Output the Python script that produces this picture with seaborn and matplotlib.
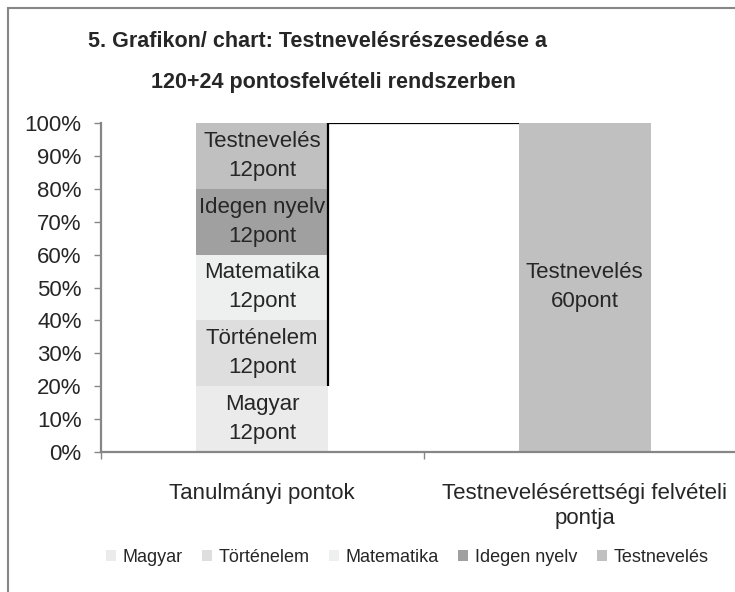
import seaborn as sns
import matplotlib.pyplot as plt
import numpy as np
from matplotlib.patches import Patch, Rectangle

categories = ["Tanulmányi pontok", "Testnevelésérettségi felvételi\npontja"]
subjects = ["Magyar", "Történelem", "Matematika", "Idegen nyelv", "Testnevelés"]
points_tanulmanyi = [12, 12, 12, 12, 12]
points_erettsegi = [0, 0, 0, 0, 60]
colors = ["#ebebeb", "#dedede", "#eef0ef", "#a0a0a0", "#c0c0c0"]
yticks = list(range(0, 101, 10))

TITLE_1 = "5. Grafikon/ chart: Testnevelésrészesedése a"
TITLE_2 = "120+24 pontosfelvételi rendszerben"

sns.set_style("white")
plt.rcParams["font.family"] = ["Liberation Sans", "DejaVu Sans"]
TEXT = "#262626"
GRAY = "#868686"

points = np.array([points_tanulmanyi, points_erettsegi], dtype=float)
pct = points / points.sum(axis=1, keepdims=True) * 100
cum = pct.cumsum(axis=1)
bar_w = 0.41

fig = plt.figure(figsize=(7.35, 5.92), dpi=100)
ax = fig.add_axes([101 / 735, 1 - 452 / 592, 645 / 735, 329 / 592])

# stacked bars: draw cumulative totals from the top series down
for j in range(len(subjects) - 1, -1, -1):
    sns.barplot(x=[0, 1], y=cum[:, j], color=colors[j], width=bar_w,
                saturation=1, ax=ax, native_scale=True, linewidth=0)

for i in range(2):
    for j, s in enumerate(subjects):
        if points[i, j] > 0:
            ax.text(i, cum[i, j] - pct[i, j] / 2, f"{s}\n{int(points[i, j])}pont",
                    ha="center", va="center", fontsize=16, color=TEXT,
                    linespacing=1.5)

# black connector line
ax.plot([bar_w / 2, bar_w / 2, 1 - bar_w / 2], [cum[0, 0], 100, 100],
        color="black", lw=1.6, solid_capstyle="butt")

ax.set_xlim(-0.5, 1.5)
ax.set_ylim(0, 100)
ax.set_yticks(yticks)
ax.set_yticklabels([f"{v}%" for v in yticks])
ax.set_xticks([0, 1])
ax.set_xticklabels(categories, linespacing=1.25)
ax.set_xticks([-0.5, 0.5, 1.5], minor=True)
ax.tick_params(axis="y", length=5, width=1, color=GRAY, labelsize=16,
               labelcolor=TEXT, pad=9, left=True)
ax.tick_params(axis="x", which="major", length=0, labelsize=16,
               labelcolor=TEXT, pad=22)
ax.tick_params(axis="x", which="minor", length=5, width=1, color=GRAY,
               bottom=True)
ax.set_xlabel("")
ax.set_ylabel("")
sns.despine(ax=ax)
for sp in ["left", "bottom"]:
    ax.spines[sp].set_color(GRAY)
    ax.spines[sp].set_linewidth(1.6)

fig.text(318 / 735, 1 - 47 / 592, TITLE_1, ha="center", va="baseline",
         fontsize=15.5, fontweight="bold", color=TEXT)
fig.text(333 / 735, 1 - 88 / 592, TITLE_2, ha="center", va="baseline",
         fontsize=15.5, fontweight="bold", color=TEXT)

handles = [Patch(facecolor=c, edgecolor="none") for c in colors]
fig.legend(handles, subjects, loc="center", bbox_to_anchor=(407 / 735, 1 - 557 / 592),
           ncol=5, frameon=False, fontsize=13, handlelength=0.55,
           handleheight=0.55, handletextpad=0.35, columnspacing=1.1,
           labelcolor=TEXT)

fig.add_artist(Rectangle((8 / 735, -0.5), 2, 1.5 - 8 / 592, transform=fig.transFigure,
                         fill=False, edgecolor=GRAY, lw=1.5, clip_on=False))

fig.savefig("out.png", dpi=100)
